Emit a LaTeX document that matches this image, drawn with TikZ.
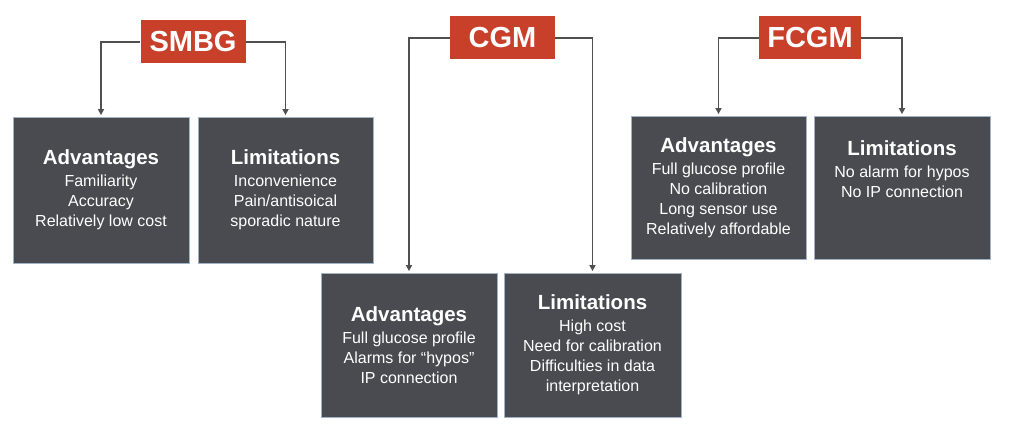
\documentclass[tikz,border=0pt]{standalone}
\usepackage{xcolor}
\usepackage{fontspec}
\setmainfont{Liberation Sans}
\usetikzlibrary{arrows.meta}

\definecolor{headred}{RGB}{200,64,42}
\definecolor{boxgray}{RGB}{74,75,80}
\definecolor{boxedge}{RGB}{160,180,198}
\definecolor{linegray}{RGB}{80,80,80}

\tikzset{
  head/.style={fill=headred, text=white, font=\fontsize{29}{32}\selectfont\bfseries,
    minimum width=105pt, minimum height=43pt, inner sep=0pt},
  panel/.style={draw=boxedge, line width=0.8pt, fill=boxgray, inner sep=0pt,
    text=white, align=center, font=\fontsize{16}{20}\selectfont},
  paneltext/.style={text=white, align=center, inner sep=0pt, font=\fontsize{16}{20}\selectfont},
  link/.style={draw=linegray, line width=1.8pt, -{Triangle[length=6pt,width=6pt]}, shorten >=1.5pt}
}
\newcommand{\paneltitle}[1]{{\fontsize{20.5}{20}\selectfont\bfseries #1}\\[2pt]}

\begin{document}
\begin{tikzpicture}[x=1pt, y=-1pt]
    \useasboundingbox (0,0) rectangle (1012,428);

    % SMBG
    \node[head] (smbg) at (193,42) {SMBG};
    \node[panel, minimum width=176pt, minimum height=146pt] (sadv) at (101,190)
        {\paneltitle{Advantages}Familiarity\\Accuracy\\Relatively low cost};
    \node[panel, minimum width=175pt, minimum height=146pt] (slim) at (285.5,190)
        {\paneltitle{Limitations}Inconvenience\\Pain/antisoical\\sporadic nature};

    % CGM
    \node[head] (cgm) at (502.5,38) {CGM};
    \node[panel, minimum width=176pt, minimum height=144pt] (cadv) at (409,345)
        {\paneltitle{Advantages}Full glucose profile\\Alarms for “hypos”\\IP connection};
    \node[panel, minimum width=177pt, minimum height=144pt] (clim) at (592.5,345)
        {\paneltitle{Limitations}High cost\\Need for calibration\\Difficulties in data\\interpretation};

    % FCGM
    \node[head, minimum width=102pt] (fcgm) at (810,38) {FCGM};
    \node[panel, minimum width=175pt, minimum height=143pt] (fadv) at (718.5,187.5)
        {\paneltitle{Advantages}Full glucose profile\\No calibration\\Long sensor use\\Relatively affordable};
    \node[panel, minimum width=176pt, minimum height=143pt] (flim) at (902,187.5) {};
    \node[paneltext, anchor=north] (flimtext) at ([yshift=-25pt]flim.north)
        {\paneltitle{Limitations}No alarm for hypos\\No IP connection};

    % Connections
    \draw[link] (smbg.west) -| (sadv.north);
    \draw[link] (smbg.east) -| (slim.north);
    \draw[link] (cgm.west) -| (cadv.north);
    \draw[link] (cgm.east) -| (clim.north);
    \draw[link] (fcgm.west) -| (fadv.north);
    \draw[link] (fcgm.east) -| (flim.north);
\end{tikzpicture}
\end{document}
